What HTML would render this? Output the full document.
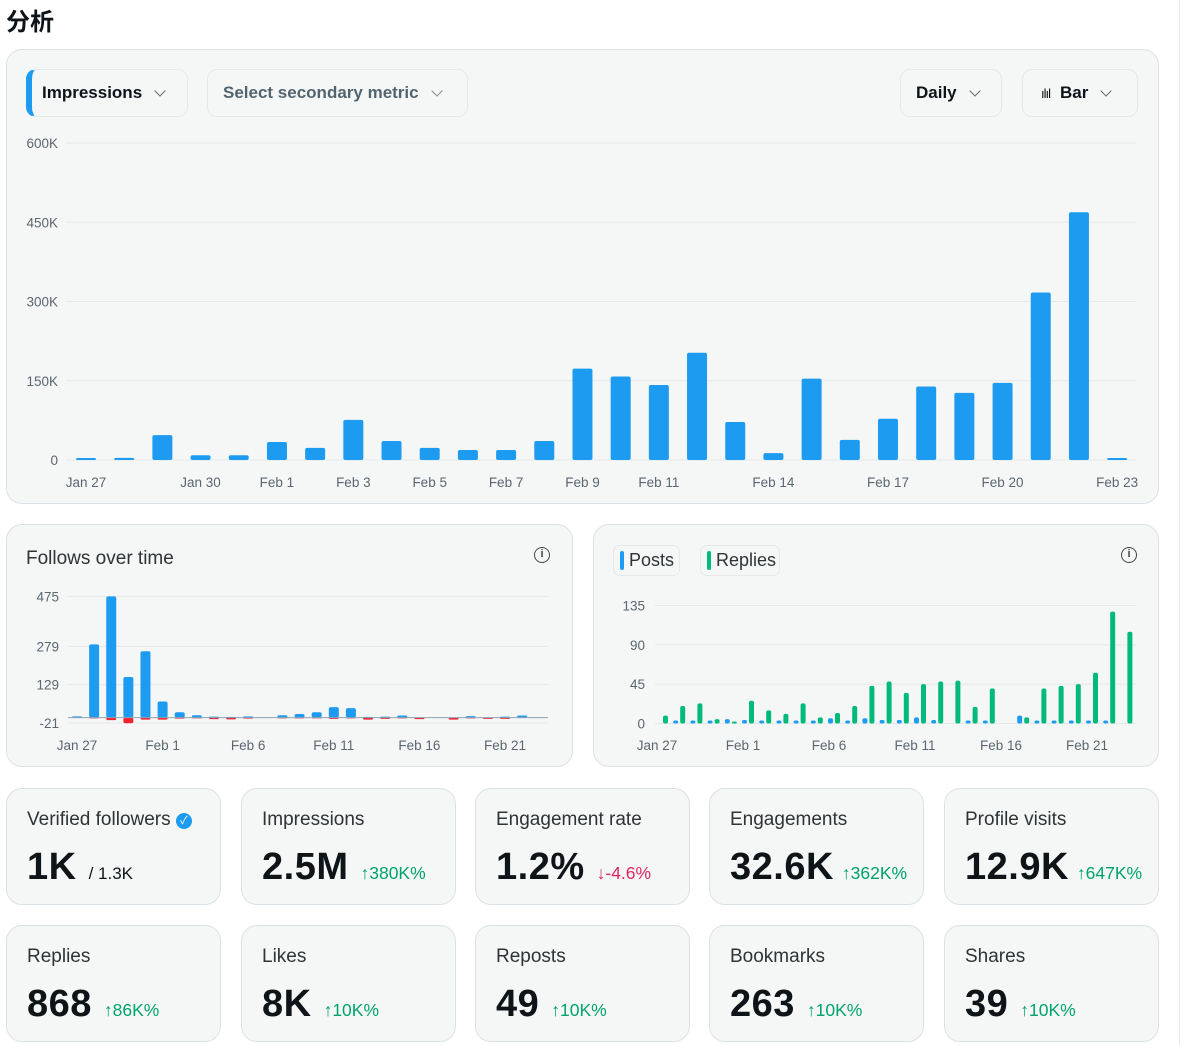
<!DOCTYPE html>
<html><head><meta charset="utf-8"><style>
*{box-sizing:border-box;margin:0;padding:0}
body{width:1200px;height:1045px;background:#fff;font-family:"Liberation Sans","Noto Sans CJK SC",sans-serif;color:#0f1419;position:relative;overflow:hidden}
.card{position:absolute;background:#f5f7f7;border:1.5px solid #dbe2e6;border-radius:16px}
.btn{position:absolute;border:1px solid #e3e8eb;border-radius:10px;background:#f5f7f7;font-size:17px;font-weight:bold;display:flex;align-items:center;padding-left:15px}
.chev{display:inline-block;width:8px;height:8px;border-right:1.5px solid #666;border-bottom:1.5px solid #666;transform:rotate(45deg);margin-left:14px;margin-top:-5px}
.stat .lbl{position:absolute;left:20px;top:20px;font-size:19px;color:#2f3336}
.stat .val{position:absolute;left:20px;top:57px;font-size:38px;font-weight:bold;color:#0f1419;letter-spacing:0.5px}
.stat .chg{font-size:17.5px;font-weight:normal;color:#00a36b;margin-left:12px;letter-spacing:0}
.chg.dn{color:#e0245e}
svg{position:absolute;left:0;top:0}
.ax{font-size:13.5px;fill:#5b6670}
</style></head><body>
<div style="position:absolute;left:6px;top:2px;font-size:24px;font-weight:bold">分析</div>
<div style="position:absolute;left:1179px;top:0;width:1px;height:1045px;background:#e4e7e9"></div>

<div class="card" style="left:6px;top:49px;width:1153px;height:455px"></div>
<div class="btn" style="left:26px;top:69px;width:162px;height:48px;border-left:6px solid #1d9bf0;padding-left:10px">Impressions<span class="chev"></span></div>
<div class="btn" style="left:207px;top:69px;width:261px;height:48px;color:#536471">Select secondary metric<span class="chev" style="border-color:#888"></span></div>
<div class="btn" style="left:900px;top:69px;width:102px;height:48px">Daily<span class="chev"></span></div>
<div class="btn" style="left:1022px;top:69px;width:116px;height:48px;padding-left:18px"><span style="font-size:13px;font-weight:normal;letter-spacing:-1px;margin-right:10px">ılıl</span>Bar<span class="chev"></span></div>

<div class="card" style="left:6px;top:524px;width:567px;height:243px"></div>
<div style="position:absolute;left:26px;top:548px;font-size:19px;color:#2f3336">Follows over time</div>
<div style="position:absolute;left:534px;top:547px;width:16px;height:16px;border:1.5px solid #444;border-radius:50%;font-size:11px;text-align:center;line-height:13px;font-weight:bold;color:#444">i</div>

<div class="card" style="left:593px;top:524px;width:566px;height:243px"></div>
<div style="position:absolute;left:613px;top:545px;width:67px;height:31px;border:1px solid #e3e8eb;border-radius:7px;font-size:18px;line-height:29px;padding-left:15px;color:#2f3336"><span style="position:absolute;left:6px;top:5px;width:4px;height:19px;border-radius:2px;background:#1d9bf0"></span>Posts</div>
<div style="position:absolute;left:700px;top:545px;width:80px;height:31px;border:1px solid #e3e8eb;border-radius:7px;font-size:18px;line-height:29px;padding-left:15px;color:#2f3336"><span style="position:absolute;left:6px;top:5px;width:4px;height:19px;border-radius:2px;background:#00ba7c"></span>Replies</div>
<div style="position:absolute;left:1121px;top:547px;width:16px;height:16px;border:1.5px solid #444;border-radius:50%;font-size:11px;text-align:center;line-height:13px;font-weight:bold;color:#444">i</div>

<div class="card stat" style="left:6px;top:788px;width:215px;height:117px"><div class="lbl">Verified followers <span style="display:inline-block;width:16px;height:16px;border-radius:50%;background:#1d9bf0;color:#fff;font-size:11px;text-align:center;line-height:16px;vertical-align:1px">✓</span></div><div class="val">1K<span style="font-size:17px;font-weight:normal;margin-left:12px;letter-spacing:0">/ 1.3K</span></div></div>
<div class="card stat" style="left:241px;top:788px;width:215px;height:117px"><div class="lbl">Impressions</div><div class="val">2.5M<span class="chg">↑380K%</span></div></div>
<div class="card stat" style="left:475px;top:788px;width:215px;height:117px"><div class="lbl">Engagement rate</div><div class="val">1.2%<span class="chg dn">↓-4.6%</span></div></div>
<div class="card stat" style="left:709px;top:788px;width:215px;height:117px"><div class="lbl">Engagements</div><div class="val">32.6K<span class="chg" style="margin-left:8px">↑362K%</span></div></div>
<div class="card stat" style="left:944px;top:788px;width:215px;height:117px"><div class="lbl">Profile visits</div><div class="val">12.9K<span class="chg" style="margin-left:8px">↑647K%</span></div></div>
<div class="card stat" style="left:6px;top:925px;width:215px;height:117px"><div class="lbl">Replies</div><div class="val">868<span class="chg">↑86K%</span></div></div>
<div class="card stat" style="left:241px;top:925px;width:215px;height:117px"><div class="lbl">Likes</div><div class="val">8K<span class="chg">↑10K%</span></div></div>
<div class="card stat" style="left:475px;top:925px;width:215px;height:117px"><div class="lbl">Reposts</div><div class="val">49<span class="chg">↑10K%</span></div></div>
<div class="card stat" style="left:709px;top:925px;width:215px;height:117px"><div class="lbl">Bookmarks</div><div class="val">263<span class="chg">↑10K%</span></div></div>
<div class="card stat" style="left:944px;top:925px;width:215px;height:117px"><div class="lbl">Shares</div><div class="val">39<span class="chg">↑10K%</span></div></div>

<svg id="charts" width="1200" height="1045"></svg>
<script>
// Impressions (K)
const impValues=[2,4,47,9,9,34,23,76,36,23,19,19,36,173,158,142,203,72,13,154,38,78,139,127,146,317,469,3];
const impTicks=[0,150,300,450,600];
const impTickLabels=["0","150K","300K","450K","600K"];
const impDateIdx=[0,3,5,7,9,11,13,15,18,21,24,27];
const impDateLabels=["Jan 27","Jan 30","Feb 1","Feb 3","Feb 5","Feb 7","Feb 9","Feb 11","Feb 14","Feb 17","Feb 20","Feb 23"];
// Follows
const folGain=[5,287,475,159,260,63,21,9,4,3,5,1,9,14,21,41,37,3,4,8,0,0,0,6,0,4,8];
const folLoss=[0,-3,-10,-22,-8,-8,-4,-3,-6,-7,-4,0,-3,-3,-3,-5,-3,-8,-5,-3,-6,0,-8,-3,-5,-5,0];
const folTicks=[-21,129,279,475];
const folDateIdx=[0,5,10,15,20,25];
const folDateLabels=["Jan 27","Feb 1","Feb 6","Feb 11","Feb 16","Feb 21"];
// Posts & replies
const postValues=[0,3,3,3,5,4,3,3,1,2,6,1,6,4,4,7,4,0,3,1,0,9,1,1,1,2,3,0];
const replyValues=[9,20,23,5,1,26,15,11,23,7,12,20,43,48,35,45,48,49,19,40,0,7,40,43,45,58,128,105];
const prTicks=[0,45,90,135];
const prDateIdx=[0,5,10,15,20,25];
const prDateLabels=["Jan 27","Feb 1","Feb 6","Feb 11","Feb 16","Feb 21"];

const svg=document.getElementById('charts');const NS='http://www.w3.org/2000/svg';
function el(t,a){const e=document.createElementNS(NS,t);for(const k in a)e.setAttribute(k,a[k]);svg.appendChild(e);return e;}
function txt(x,y,s,anchor){const e=el('text',{x:x,y:y,class:'ax','text-anchor':anchor});e.textContent=s;return e;}

// main chart
const mx=i=>86+i*38.19, my=v=>460-v*(317/600);
impTicks.forEach((t,i)=>{const g=el('line',{x1:66,x2:1136,y1:my(t),y2:my(t),stroke:'#e3e8eb'});


const l=txt(58,my(t)+5,impTickLabels[i],'end');

});
impValues.forEach((v,i)=>{const h=Math.max(2,460-my(v));const r=el('rect',{x:mx(i)-10,y:460-h,width:20,height:h,rx:2,fill:'#1d9bf0'});

});
impDateIdx.forEach((d,i)=>{const l=txt(mx(d),487,impDateLabels[i],'middle');

});

// follows chart
const fx=i=>77+i*17.12, fy=v=>717.6-v*0.2553;
folTicks.forEach(t=>{const g=el('line',{x1:68,x2:548,y1:fy(t),y2:fy(t),stroke:'#e3e8eb'});


const l=txt(59,fy(t)+5,String(t),'end');

});
folGain.forEach((v,i)=>{if(v<=0)return;const h=fy(0)-fy(v);const r=el('rect',{x:fx(i)-5,y:fy(v),width:10,height:h,rx:2,fill:'#1d9bf0'});

});
folLoss.forEach((v,i)=>{if(v>=0)return;const h=fy(v)-fy(0);const r=el('rect',{x:fx(i)-5,y:fy(0),width:10,height:h,rx:2,fill:'#f4212e'});

});
const zl=el('line',{x1:68,x2:548,y1:fy(0),y2:fy(0),stroke:'#8fa3b0','stroke-width':1});


folDateIdx.forEach((d,i)=>{const l=txt(fx(d),750,folDateLabels[i],'middle');

});

// posts chart
const px=i=>660+i*17.2, py=v=>723.5-v*(118/135);
prTicks.forEach(t=>{const g=el('line',{x1:655,x2:1136,y1:py(t),y2:py(t),stroke:'#e3e8eb'});


const l=txt(645,py(t)+5,String(t),'end');

});
postValues.forEach((v,i)=>{if(v<=0)return;const h=Math.max(3,py(0)-py(v));const r=el('rect',{x:px(i)-4,y:py(0)-h,width:5,height:h,rx:2,fill:'#1d9bf0'});

});
replyValues.forEach((v,i)=>{if(v<=0)return;const h=Math.max(2,py(0)-py(v));const r=el('rect',{x:px(i)+3,y:py(0)-h,width:5,height:h,rx:2,fill:'#00ba7c'});

});
prDateIdx.forEach((d,i)=>{const l=txt(px(d)-3,750,prDateLabels[i],'middle');

});
</script>
</body></html>
